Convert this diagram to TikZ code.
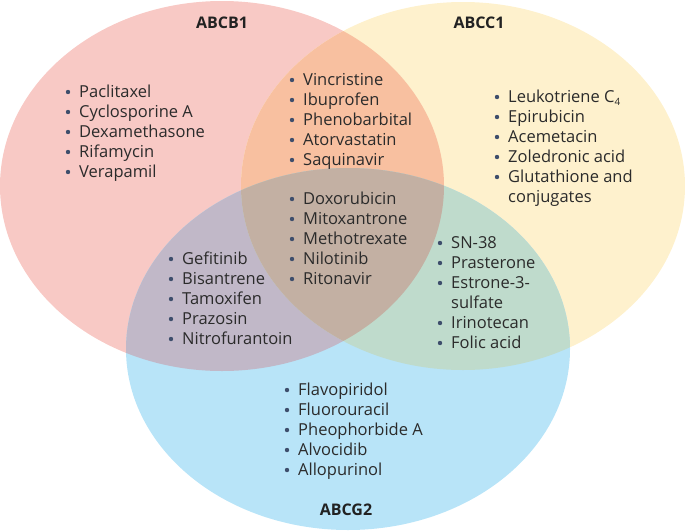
\documentclass[tikz,border=0pt]{standalone}
\usepackage{fontspec}
\setmainfont{Open Sans}
\definecolor{pinkc}{HTML}{F8C9C5}
\definecolor{yellowc}{HTML}{FEF1CD}
\definecolor{bluec}{HTML}{B8E4F8}
\definecolor{orangec}{HTML}{F8C0A0}
\definecolor{purplec}{HTML}{C1B8C8}
\definecolor{greenc}{HTML}{BFDBCC}
\definecolor{brownc}{HTML}{C3B0A3}
\definecolor{txtc}{HTML}{2B2B2B}
\definecolor{bulc}{HTML}{3E4E6C}
\tikzset{
  drug/.style={inner sep=0pt, text=txtc, font=\fontsize{16.5}{20}\selectfont},
  title/.style={inner sep=0pt, text=txtc!80!black, font=\fontsize{16}{18}\selectfont\bfseries, anchor=base},
}
\newcommand{\eA}{(222,186) ellipse[x radius=222pt, y radius=185pt]}
\newcommand{\eB}{(463,186) ellipse[x radius=222pt, y radius=184pt]}
\newcommand{\eC}{(348,349) ellipse[x radius=222pt, y radius=181pt]}
\newcommand{\itemat}[4]{%
  \node[drug, anchor=base west] (#1) at (#2,#3) {#4};
  \fill[bulc] (#1.base west) ++(-11,-5) circle[radius=2.2pt];}
\newcommand{\contat}[4]{\node[drug, anchor=base west] (#1) at (#2,#3) {#4};}
\begin{document}
\begin{tikzpicture}[x=1pt, y=-1pt]
\useasboundingbox (0,0) rectangle (685,531);
% base ellipses
\fill[pinkc] \eA;
\fill[yellowc] \eB;
\fill[bluec] \eC;
% pairwise overlaps
\begin{scope}\path[clip] \eA; \fill[orangec] \eB; \end{scope}
\begin{scope}\path[clip] \eA; \fill[purplec] \eC; \end{scope}
\begin{scope}\path[clip] \eB; \fill[greenc] \eC; \end{scope}
\begin{scope}\path[clip] \eA; \path[clip] \eB; \fill[brownc] \eC; \end{scope}
% titles
\node[title] (tA) at (222,28) {ABCB1};
\node[title] (tB) at (479,28) {ABCC1};
\node[title] (tC) at (346,515) {ABCG2};
% ABCB1 only
\itemat{a1}{79}{97}{Paclitaxel}
\itemat{a2}{79}{117}{Cyclosporine A}
\itemat{a3}{79}{137}{Dexamethasone}
\itemat{a4}{79}{157}{Rifamycin}
\itemat{a5}{79}{177}{Verapamil}
% ABCB1 & ABCC1
\itemat{ab1}{303}{85}{Vincristine}
\itemat{ab2}{303}{105}{Ibuprofen}
\itemat{ab3}{303}{125}{Phenobarbital}
\itemat{ab4}{303}{145}{Atorvastatin}
\itemat{ab5}{303}{165}{Saquinavir}
% all three
\itemat{abc1}{303}{204}{Doxorubicin}
\itemat{abc2}{303}{224}{Mitoxantrone}
\itemat{abc3}{303}{244}{Methotrexate}
\itemat{abc4}{303}{264}{Nilotinib}
\itemat{abc5}{303}{284}{Ritonavir}
% ABCB1 & ABCG2
\itemat{ac1}{182}{264}{Gefitinib}
\itemat{ac2}{182}{284}{Bisantrene}
\itemat{ac3}{182}{304}{Tamoxifen}
\itemat{ac4}{182}{324}{Prazosin}
\itemat{ac5}{182}{344}{Nitrofurantoin}
% ABCC1 only
\itemat{b1}{508}{102}{Leukotriene C\raisebox{-3pt}{\fontsize{10}{10}\selectfont 4}}
\itemat{b2}{508}{122}{Epirubicin}
\itemat{b3}{508}{142}{Acemetacin}
\itemat{b4}{508}{162}{Zoledronic acid}
\itemat{b5}{508}{182}{Glutathione and}
\contat{b6}{508}{202}{conjugates}
% ABCC1 & ABCG2
\itemat{bc1}{451}{248}{SN-38}
\itemat{bc2}{451}{268}{Prasterone}
\itemat{bc3}{451}{288}{Estrone-3-}
\contat{bc4}{451}{308}{sulfate}
\itemat{bc5}{451}{328}{Irinotecan}
\itemat{bc6}{451}{348}{Folic acid}
% ABCG2 only
\itemat{c1}{298}{395}{Flavopiridol}
\itemat{c2}{298}{415}{Fluorouracil}
\itemat{c3}{298}{435}{Pheophorbide A}
\itemat{c4}{298}{455}{Alvocidib}
\itemat{c5}{298}{475}{Allopurinol}
\end{tikzpicture}
\end{document}
